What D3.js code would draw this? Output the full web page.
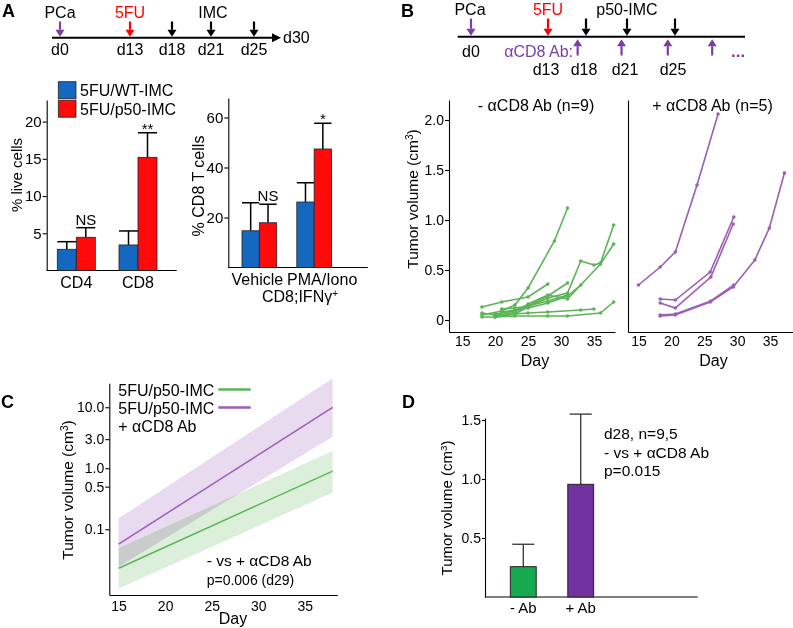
<!DOCTYPE html>
<html><head><meta charset="utf-8">
<script src="https://cdn.jsdelivr.net/npm/d3@7"></script>
<style>
body{margin:0;background:#fff;}
svg text{font-family:"Liberation Sans",Arial,Helvetica,sans-serif;}
</style></head><body>
<svg id="fig" width="793" height="628" xmlns="http://www.w3.org/2000/svg"></svg>
<script>
// ---------------- DATA ----------------
// Panel A timeline
const aTlArrowDays = [0, 13, 18, 21, 25];
const aTlTopLabels = ["PCa", "5FU", "", "IMC", ""];
const aTlDayLabels = ["d0", "d13", "d18", "d21", "d25"];
// Panel A bars
const aLegend = ["5FU/WT-IMC", "5FU/p50-IMC"];
const aLeftCategories = ["CD4", "CD8"];
const aLeftWT = [2.85, 3.43];
const aLeftWTErr = [1.02, 1.88];
const aLeftP50 = [4.46, 15.2];
const aLeftP50Err = [1.29, 3.3];
const aLeftSig = ["NS", "**"];
const aLeftTicks = [5, 10, 15, 20];
const aRightCategories = ["Vehicle", "PMA/Iono"];
const aRightWT = [14.7, 26.2];
const aRightWTErr = [11.2, 7.7];
const aRightP50 = [17.9, 47.4];
const aRightP50Err = [7.4, 10.3];
const aRightSig = ["NS", "*"];
const aRightTicks = [20, 40, 60];
// Panel B timeline
const bTlArrowDays = [0, 13, 18, 21, 25];
const bTlTopLabels = ["PCa", "5FU", "", "p50-IMC", ""];
const bTlDayLabels = ["d0", "d13", "d18", "d21", "d25"];
const bAbDays = [16.9, 20.6, 24.4, 28.1];
// Panel B individual tumours [day, volume cm3]
const bMinusAb = [
  [[18,0.05],[21,0.09],[23,0.15],[25,0.32],[29,0.79],[31,1.12]],
  [[18,0.13],[21,0.18],[25,0.23],[28,0.36]],
  [[21,0.11],[23,0.12],[25,0.14],[28,0.24],[31,0.37]],
  [[20,0.03],[23,0.06],[25,0.13],[28,0.22],[31,0.27],[33,0.59],[35,0.55],[36,0.57],[38,0.95]],
  [[20,0.04],[23,0.08],[25,0.16],[28,0.25],[31,0.21],[36,0.56],[38,0.76]],
  [[20,0.06],[23,0.09],[25,0.12],[28,0.17],[31,0.24],[33,0.35]],
  [[18,0.03],[20,0.03],[23,0.04],[28,0.04],[31,0.04],[36,0.07],[38,0.18]],
  [[18,0.07],[20,0.05],[23,0.06],[25,0.07],[28,0.08],[33,0.10],[35,0.11]],
  [[21,0.08],[23,0.10],[25,0.14],[28,0.19],[31,0.25]]
];
const bPlusAb = [
  [[15,0.35],[18.3,0.53],[20.6,0.68],[23.9,1.35],[27.1,2.06]],
  [[18.3,0.21],[20.6,0.20],[25.9,0.48],[29.5,1.03]],
  [[18.3,0.17],[20.6,0.12],[26,0.43],[29.4,0.96]],
  [[18.3,0.04],[20.6,0.05],[25.9,0.18],[29.4,0.33],[32.7,0.60],[34.9,0.92],[37.2,1.47]],
  [[18.3,0.05],[20.6,0.06],[26,0.19],[29.5,0.35]]
];
const bTitles = ["- \u03b1CD8 Ab (n=9)", "+ \u03b1CD8 Ab (n=5)"];
const bYTicks = [0, 0.5, 1.0, 1.5, 2.0];
const bXTicks = [15, 20, 25, 30, 35];
// Panel C fitted growth (log scale)
const cDays = [15, 38];
const cGreenFit = [0.023, 0.90];
const cGreenLo = [0.0107, 0.40];
const cGreenHi = [0.049, 1.92];
const cPurpleFit = [0.057, 10.0];
const cPurpleLo = [0.0244, 3.3];
const cPurpleHi = [0.151, 29.9];
const cYTicks = [0.1, 0.5, 1.0, 3.0, 10.0];
const cXTicks = [15, 20, 25, 30, 35];
const cLegend = ["5FU/p50-IMC", "5FU/p50-IMC"];
// Panel D
const dCategories = ["- Ab", "+ Ab"];
const dValues = [0.257, 0.955];
const dErr = [0.19, 0.595];
const dYTicks = [0.5, 1.0, 1.5];

// ---------------- STYLE ----------------
const BLUE = "#1468c0", RED = "#ff0a0a", GREEN = "#5cb457", PURPLE = "#9d5cb8";
const TLPURPLE = "#7a3ea6", DGREEN = "#16a94f", DPURPLE = "#7231a0";
const svg = d3.select("#fig");

function text(x, y, s, size, anchor = "start", color = "#000", weight = "normal") {
  return svg.append("text").attr("x", x).attr("y", y).attr("font-size", size)
    .attr("text-anchor", anchor).attr("fill", color).attr("font-weight", weight).text(s);
}
function arrow(x, yTail, yHead, color) {
  const dir = yHead > yTail ? 1 : -1, hl = 7, hw = 4.5;
  svg.append("line").attr("x1", x).attr("x2", x).attr("y1", yTail).attr("y2", yHead - dir * hl)
    .attr("stroke", color).attr("stroke-width", 2.2);
  svg.append("path").attr("d", `M${x - hw},${yHead - dir * hl}L${x + hw},${yHead - dir * hl}L${x},${yHead}Z`).attr("fill", color);
}
function vlabel(x, y, size, parts) {
  const t = svg.append("text").attr("transform", `translate(${x},${y}) rotate(-90)`)
    .attr("text-anchor", "middle").attr("dy", "0.35em").attr("font-size", size);
  parts.forEach(p => {
    const ts = t.append("tspan").text(p.t);
    if (p.sup) ts.attr("baseline-shift", "super").attr("font-size", size * 0.65);
  });
  return t;
}
function styleAxis(g, size) {
  g.selectAll("path.domain").attr("stroke", "#000").attr("stroke-width", 1.1);
  g.selectAll(".tick line").attr("stroke", "#000").attr("stroke-width", 1.1);
  g.selectAll(".tick text").attr("font-size", size).attr("fill", "#000")
    .attr("font-family", '"Liberation Sans",Arial,sans-serif');
}

// ---------------- PANEL A ----------------
text(2, 17, "A", 18, "start", "#000", "bold");
{
  const tl = d3.scaleLinear().domain([0, 13, 18, 21, 25, 30]).range([60, 130, 172, 211, 254, 278]);
  const yL = 37.7;
  svg.append("line").attr("x1", 52).attr("x2", tl(30) - 4).attr("y1", yL).attr("y2", yL).attr("stroke", "#000").attr("stroke-width", 2);
  svg.append("path").attr("d", `M${tl(30) - 6},${yL - 4.5}L${tl(30) + 3},${yL}L${tl(30) - 6},${yL + 4.5}Z`).attr("fill", "#000");
  text(tl(30) + 5, yL + 5, "d30", 16);
  aTlArrowDays.forEach((d, i) => {
    const col = i === 0 ? TLPURPLE : i === 1 ? "#ff0000" : "#000";
    arrow(tl(d), 21.5, yL - 1, col);
    if (aTlTopLabels[i]) text(tl(d) + (i === 3 ? 2 : 0), 18.3, aTlTopLabels[i], 16, "middle", i === 1 ? "#ff0000" : "#000");
    text(tl(d), 55, aTlDayLabels[i], 16, "middle");
  });
}
function groupedBars(cats, v1, e1, v2, e2, sig, x, y, xEnd, yTicks, labelDx) {
  const ax = svg.append("g").attr("transform", `translate(${y.axisX},0)`)
    .call(d3.axisLeft(y).tickValues(yTicks).tickSize(4).tickSizeOuter(0).tickPadding(1));
  styleAxis(ax, 15);
  svg.append("line").attr("x1", y.axisX).attr("x2", xEnd).attr("y1", y(0)).attr("y2", y(0)).attr("stroke", "#000").attr("stroke-width", 1.1);
  const sub = d3.scaleBand().domain([0, 1]).range([0, x.bandwidth()]);
  cats.forEach((c, i) => {
    [[v1, e1, BLUE], [v2, e2, RED]].forEach(([v, e, col], j) => {
      const bx = x(c) + sub(j), bw = sub.bandwidth();
      const top = y(v[i]), et = y(v[i] + e[i]);
      svg.append("line").attr("x1", bx + bw / 2).attr("x2", bx + bw / 2).attr("y1", top).attr("y2", et).attr("stroke", "#000").attr("stroke-width", 1.5);
      svg.append("line").attr("x1", bx).attr("x2", bx + bw).attr("y1", et).attr("y2", et).attr("stroke", "#000").attr("stroke-width", 1.5);
      svg.append("rect").attr("x", bx).attr("y", top).attr("width", bw).attr("height", y(0) - top)
        .attr("fill", col).attr("stroke", "#222").attr("stroke-width", 0.8);
      if (j === 1) text(bx + bw / 2, sig[i] === "NS" ? et - 3 : et + 1, sig[i], 15, "middle");
    });
    text(x(c) + x.bandwidth() / 2 + labelDx[i], y(0) + 17, c, 16, "middle");
  });
}
{
  const y = d3.scaleLinear().domain([0, 22.9]).range([270.5, 100]);
  y.axisX = 46.7;
  const x = d3.scaleBand().domain(aLeftCategories).range([57.3, 157]).paddingInner(0.384);
  groupedBars(aLeftCategories, aLeftWT, aLeftWTErr, aLeftP50, aLeftP50Err, aLeftSig, x, y, 176.7, aLeftTicks, [0, 0]);
  vlabel(17, 175, 15, [{ t: "% live cells" }]);
  // legend
  [BLUE, RED].forEach((c, i) => {
    svg.append("rect").attr("x", 58.3).attr("y", 81.7 + i * 18.5).attr("width", 17.7).attr("height", 17)
      .attr("fill", c).attr("stroke", "#222").attr("stroke-width", 0.8);
    text(80, 96 + i * 18.5, aLegend[i], 16);
  });
}
{
  const y = d3.scaleLinear().domain([0, 67.8]).range([267.5, 98]);
  y.axisX = 228.3;
  const x = d3.scaleBand().domain(aRightCategories).range([242, 331.5]).paddingInner(0.367);
  groupedBars(aRightCategories, aRightWT, aRightWTErr, aRightP50, aRightP50Err, aRightSig, x, y, 367.7, aRightTicks, [-2, 8]);
  vlabel(198, 186, 16, [{ t: "% CD8 T cells" }]);
  const t = text(300, 302, "CD8;IFN\u03b3", 16, "middle");
  t.append("tspan").attr("baseline-shift", "super").attr("font-size", 10).text("+");
}

// ---------------- PANEL B ----------------
text(401, 17, "B", 18, "start", "#000", "bold");
{
  const tl = d3.scaleLinear().domain([0, 13, 18, 21, 25, 30]).range([471, 548, 586, 627, 675, 735]);
  const yL = 36.7;
  svg.append("line").attr("x1", 457.7).attr("x2", 745).attr("y1", yL).attr("y2", yL).attr("stroke", "#000").attr("stroke-width", 2);
  bTlArrowDays.forEach((d, i) => {
    const col = i === 0 ? TLPURPLE : i === 1 ? "#ff0000" : "#000";
    arrow(tl(d), 18.5, yL - 1, col);
    if (bTlTopLabels[i]) text(tl(d) + (i === 0 ? -1 : 0), 15, bTlTopLabels[i], 16, "middle", i === 1 ? "#ff0000" : "#000");
    if (i === 0) text(tl(d), 57, bTlDayLabels[i], 16, "middle");
    else text(tl(d) - 2, 75, bTlDayLabels[i], 16, "middle");
  });
  bAbDays.forEach(d => arrow(tl(d), 55.5, yL + 2.5, TLPURPLE));
  text(573, 57, "\u03b1CD8 Ab:", 16, "end", TLPURPLE);
  text(731, 57, "...", 17, "start", TLPURPLE, "bold");
}
{
  const y = d3.scaleLinear().domain([-0.12, 2.2]).range([332, 100]);
  const panels = [
    { data: bMinusAb, x: d3.scaleLinear().domain([13, 38.2]).range([449, 615]), col: GREEN, title: bTitles[0], tx: 536, yAxis: true },
    { data: bPlusAb, x: d3.scaleLinear().domain([13.4, 38.5]).range([628, 793]), col: PURPLE, title: bTitles[1], tx: 712.5, yAxis: false }
  ];
  panels.forEach(p => {
    const ay = svg.append("g").attr("transform", `translate(${p.x.range()[0]},0)`)
      .call(d3.axisLeft(y).tickValues(p.yAxis ? bYTicks : []).tickSize(4).tickSizeOuter(0).tickPadding(1)
        .tickFormat(v => v === 0 ? "0" : d3.format(".1f")(v)));
    styleAxis(ay, 14);
    const ax = svg.append("g").attr("transform", `translate(0,${y.range()[0]})`)
      .call(d3.axisBottom(p.x).tickValues(bXTicks).tickSize(0).tickSizeOuter(0).tickPadding(4));
    styleAxis(ax, 14);
    text((p.x.range()[0] + p.x.range()[1]) / 2 + 3, 366, "Day", 16, "middle");
    text(p.tx, 111, p.title, 16, "middle");
    const line = d3.line().x(d => p.x(d[0])).y(d => y(d[1]));
    p.data.forEach(s => {
      svg.append("path").attr("d", line(s)).attr("fill", "none").attr("stroke", p.col).attr("stroke-width", 1.6);
      s.forEach(d => svg.append("circle").attr("cx", p.x(d[0])).attr("cy", y(d[1])).attr("r", 1.8).attr("fill", p.col));
    });
  });
  vlabel(413, 199, 15.5, [{ t: "Tumor volume (cm" }, { t: "3", sup: true }, { t: ")" }]);
}

// ---------------- PANEL C ----------------
text(1, 408, "C", 18, "start", "#000", "bold");
{
  const x = d3.scaleLinear().domain([14, 38.5]).range([109.3, 337.3]);
  const y = d3.scaleLog().domain([0.00837, 24.7]).range([595, 383.3]);
  const band = (lo, hi) => d3.area().x(d => x(d)).y0((d, i) => y(lo[i])).y1((d, i) => y(hi[i]))(cDays);
  svg.append("path").attr("d", band(cPurpleLo, cPurpleHi)).attr("fill", "#e8dbef");
  svg.append("path").attr("d", band(cGreenLo, cGreenHi)).attr("fill", "#dcefda").style("mix-blend-mode", "multiply");
  const fit = v => d3.line().x(d => x(d)).y((d, i) => y(v[i]))(cDays);
  svg.append("path").attr("d", fit(cGreenFit)).attr("fill", "none").attr("stroke", GREEN).attr("stroke-width", 1.5);
  svg.append("path").attr("d", fit(cPurpleFit)).attr("fill", "none").attr("stroke", PURPLE).attr("stroke-width", 1.5);
  const ay = svg.append("g").attr("transform", "translate(109.3,0)")
    .call(d3.axisLeft(y).tickValues(cYTicks).tickFormat(d3.format(".1f")).tickSize(4).tickSizeOuter(0).tickPadding(1));
  styleAxis(ay, 14);
  const ax = svg.append("g").attr("transform", "translate(0,595)")
    .call(d3.axisBottom(x).tickValues(cXTicks).tickSize(0).tickSizeOuter(0).tickPadding(6));
  styleAxis(ax, 14);
  text(233, 624, "Day", 16, "middle");
  vlabel(68, 490, 15.5, [{ t: "Tumor volume (cm" }, { t: "3", sup: true }, { t: ")" }]);
  [GREEN, PURPLE].forEach((c, i) => {
    text(118.3, 395.5 + i * 18, cLegend[i], 16);
    svg.append("line").attr("x1", 218.3).attr("x2", 250.7).attr("y1", 389.5 + i * 18).attr("y2", 389.5 + i * 18).attr("stroke", c).attr("stroke-width", 2.5);
  });
  text(118.3, 432, "+ \u03b1CD8 Ab", 16);
  text(206.7, 566, "- vs + \u03b1CD8 Ab", 15.5);
  text(206.7, 584.5, "p=0.006 (d29)", 14);
}

// ---------------- PANEL D ----------------
text(402, 408, "D", 18, "start", "#000", "bold");
{
  const y = d3.scaleLinear().domain([0, 1.517]).range([597, 418]);
  const x = d3.scaleBand().domain(dCategories).range([496, 608]).paddingInner(0.55).paddingOuter(0.25);
  const ay = svg.append("g").attr("transform", "translate(485,0)")
    .call(d3.axisLeft(y).tickValues(dYTicks).tickFormat(d3.format(".1f")).tickSize(3).tickSizeOuter(0).tickPadding(1));
  styleAxis(ay, 14);
  svg.append("line").attr("x1", 485).attr("x2", 697.7).attr("y1", 597).attr("y2", 597).attr("stroke", "#000").attr("stroke-width", 1.1);
  const cols = [DGREEN, DPURPLE];
  dCategories.forEach((c, i) => {
    const bx = x(c), bw = x.bandwidth(), cx = bx + bw / 2;
    const top = y(dValues[i]), et = y(dValues[i] + dErr[i]);
    svg.append("line").attr("x1", cx).attr("x2", cx).attr("y1", top).attr("y2", et).attr("stroke", "#333").attr("stroke-width", 1.3);
    svg.append("line").attr("x1", cx - 11).attr("x2", cx + 11).attr("y1", et).attr("y2", et).attr("stroke", "#333").attr("stroke-width", 1.3);
    svg.append("rect").attr("x", bx).attr("y", top).attr("width", bw).attr("height", y(0) - top)
      .attr("fill", cols[i]).attr("stroke", "#222").attr("stroke-width", 1);
    text(cx, 613, c, 15, "middle");
  });
  vlabel(447, 508, 15, [{ t: "Tumor volume (cm" }, { t: "3", sup: true }, { t: ")" }]);
  text(604, 439, "d28, n=9,5", 15.5);
  text(604, 458, "- vs + \u03b1CD8 Ab", 15.5);
  text(604, 476, "p=0.015", 15.5);
}
</script>
</body></html>
